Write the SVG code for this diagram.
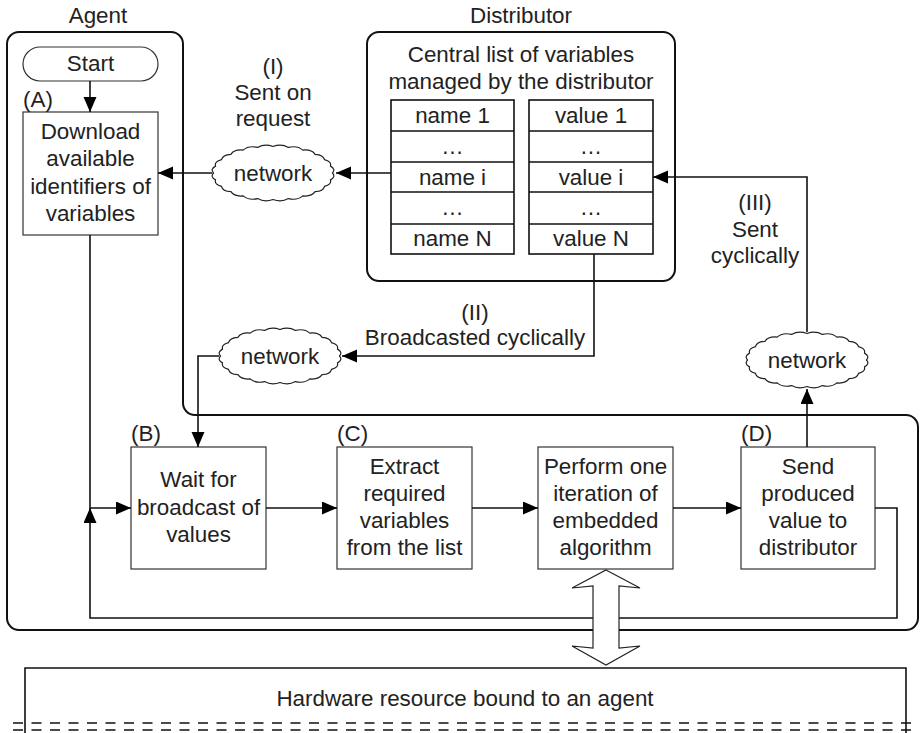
<svg xmlns="http://www.w3.org/2000/svg" width="920" height="733" viewBox="0 0 920 733">
<style>
text{font-family:"Liberation Sans",Arial,sans-serif;font-size:22.4px;fill:#222}
.c{text-anchor:middle}
.box{fill:#fff;stroke:#333;stroke-width:1.2}
.tbl{fill:#fff;stroke:#111;stroke-width:1.6}
.cont{fill:none;stroke:#111;stroke-width:2}
.ln{fill:none;stroke:#111;stroke-width:1.6}
.cl{fill:#fff;stroke:#222;stroke-width:1.2}
</style>
<defs>
<marker id="ah" markerUnits="userSpaceOnUse" markerWidth="16" markerHeight="14" refX="15" refY="6.5" orient="auto">
<path d="M0,0 L15,6.5 L0,13 Z" fill="#000"/>
</marker>
<path id="cloud" d="M59.5,0 Q63,3.9 57.5,6.9 Q58.7,11.5 51.5,13.3 Q50.4,18.3 42.1,18.7 Q38.7,23.8 29.8,22.9 Q24.3,27.7 15.4,25.6 Q8.3,29.7 0,26.5 Q-8.3,29.7 -15.4,25.6 Q-24.3,27.7 -29.8,22.9 Q-38.7,23.8 -42.1,18.7 Q-50.4,18.3 -51.5,13.3 Q-58.7,11.5 -57.5,6.9 Q-63,3.9 -59.5,0 Q-63,-3.9 -57.5,-6.9 Q-58.7,-11.5 -51.5,-13.3 Q-50.4,-18.3 -42.1,-18.7 Q-38.7,-23.8 -29.8,-22.9 Q-24.3,-27.7 -15.4,-25.6 Q-8.3,-29.7 0,-26.5 Q8.3,-29.7 15.4,-25.6 Q24.3,-27.7 29.8,-22.9 Q38.7,-23.8 42.1,-18.7 Q50.4,-18.3 51.5,-13.3 Q58.7,-11.5 57.5,-6.9 Q63,-3.9 59.5,0 Z"/>
</defs>

<g id="agent">
<path class="cont" d="M19,32 H171 A12,12 0 0 1 183,44 V403 A12,12 0 0 0 195,415 H906 A12,12 0 0 1 918,427 V618 A12,12 0 0 1 906,630 H19 A12,12 0 0 1 7,618 V44 A12,12 0 0 1 19,32 Z"/>
<text class="c" x="98" y="23">Agent</text>
</g>

<g id="distributor">
<rect class="cont" x="367" y="32" width="308" height="249" rx="12"/>
<text class="c" x="521" y="23">Distributor</text>
<text class="c" x="521" y="62">Central list of variables</text>
<text class="c" x="521" y="89">managed by the distributor</text>
</g>

<g id="names">
<rect class="tbl" x="391" y="100" width="123" height="154"/>
<path class="ln" d="M391,131 H514 M391,162 H514 M391,192 H514 M391,224 H514"/>
<text class="c" x="452.5" y="123">name 1</text>
<text class="c" x="452.5" y="154">…</text>
<text class="c" x="452.5" y="185">name i</text>
<text class="c" x="452.5" y="215">…</text>
<text class="c" x="452.5" y="246">name N</text>
</g>

<g id="values">
<rect class="tbl" x="529" y="100" width="124" height="154"/>
<path class="ln" d="M529,131 H653 M529,162 H653 M529,192 H653 M529,224 H653"/>
<text class="c" x="591" y="123">value 1</text>
<text class="c" x="591" y="154">…</text>
<text class="c" x="591" y="185">value i</text>
<text class="c" x="591" y="215">…</text>
<text class="c" x="591" y="246">value N</text>
</g>

<g id="start">
<rect class="box" x="23" y="47" width="135" height="34" rx="17"/>
<text class="c" x="90.5" y="71">Start</text>
</g>

<g id="nodeA">
<rect class="box" x="23" y="112" width="135" height="123"/>
<text x="23" y="107">(A)</text>
<text class="c" x="90.5" y="139">Download</text>
<text class="c" x="90.5" y="166">available</text>
<text class="c" x="90.5" y="194">identifiers of</text>
<text class="c" x="90.5" y="221">variables</text>
</g>

<g id="nodeB">
<rect class="box" x="131" y="447" width="135" height="122"/>
<text x="131" y="441">(B)</text>
<text class="c" x="198.5" y="487">Wait for</text>
<text class="c" x="198.5" y="515">broadcast of</text>
<text class="c" x="198.5" y="542">values</text>
</g>

<g id="nodeC">
<rect class="box" x="337" y="447" width="135" height="122"/>
<text x="337" y="441">(C)</text>
<text class="c" x="404.5" y="474">Extract</text>
<text class="c" x="404.5" y="501">required</text>
<text class="c" x="404.5" y="528">variables</text>
<text class="c" x="404.5" y="555">from the list</text>
</g>

<g id="nodePerform">
<rect class="box" x="538" y="447" width="135" height="122"/>
<text class="c" x="605.5" y="474">Perform one</text>
<text class="c" x="605.5" y="501">iteration of</text>
<text class="c" x="605.5" y="528">embedded</text>
<text class="c" x="605.5" y="555">algorithm</text>
</g>

<g id="nodeD">
<rect class="box" x="741" y="447" width="134" height="122"/>
<text x="741" y="441">(D)</text>
<text class="c" x="808" y="474">Send</text>
<text class="c" x="808" y="501">produced</text>
<text class="c" x="808" y="528">value to</text>
<text class="c" x="808" y="555">distributor</text>
</g>

<g id="connectors">
<path class="ln" d="M90,81 V112" marker-end="url(#ah)"/>
<path class="ln" d="M391,173 H336" marker-end="url(#ah)"/>
<path class="ln" d="M212,173 H158" marker-end="url(#ah)"/>
<path class="ln" d="M594,254 V356 H342" marker-end="url(#ah)"/>
<path class="ln" d="M219,356 H198 V447" marker-end="url(#ah)"/>
<path class="ln" d="M90,235 V508 H131" marker-end="url(#ah)"/>
<path class="ln" d="M875,508 H897 V618 H90 V508" marker-end="url(#ah)"/>
<path class="ln" d="M266,508 H337" marker-end="url(#ah)"/>
<path class="ln" d="M472,508 H538" marker-end="url(#ah)"/>
<path class="ln" d="M673,508 H741" marker-end="url(#ah)"/>
<path class="ln" d="M807,447 V389" marker-end="url(#ah)"/>
<path class="ln" d="M807,332 V177 H653" marker-end="url(#ah)"/>
<text class="c" x="273" y="74">(I)</text>
<text class="c" x="273" y="100">Sent on</text>
<text class="c" x="273" y="126">request</text>
<text class="c" x="475" y="320">(II)</text>
<text class="c" x="475" y="345">Broadcasted cyclically</text>
<text class="c" x="755" y="210">(III)</text>
<text class="c" x="755" y="237">Sent</text>
<text class="c" x="755" y="263">cyclically</text>
</g>

<g id="network1">
<use href="#cloud" class="cl" transform="translate(273,173)"/>
<text class="c" x="273" y="181">network</text>
</g>
<g id="network2">
<use href="#cloud" class="cl" transform="translate(280,356)"/>
<text class="c" x="280" y="364">network</text>
</g>
<g id="network3">
<use href="#cloud" class="cl" transform="translate(807,360)"/>
<text class="c" x="807" y="368">network</text>
</g>

<g id="hardware">
<path class="ln" d="M25,733 V668 H906 V733"/>
<path d="M13,723 H912 M13,730 H912" fill="none" stroke="#111" stroke-width="1.6" stroke-dasharray="10 8.5"/>
<text class="c" x="465" y="706">Hardware resource bound to an agent</text>
</g>

<g id="blockArrow">
<path d="M606,570 L640,588 L619,586 L619,648 L640,646 L606,665 L572,646 L593,648 L593,586 L572,588 Z" fill="#fff" stroke="#222" stroke-width="1.2"/>
</g>
</svg>
